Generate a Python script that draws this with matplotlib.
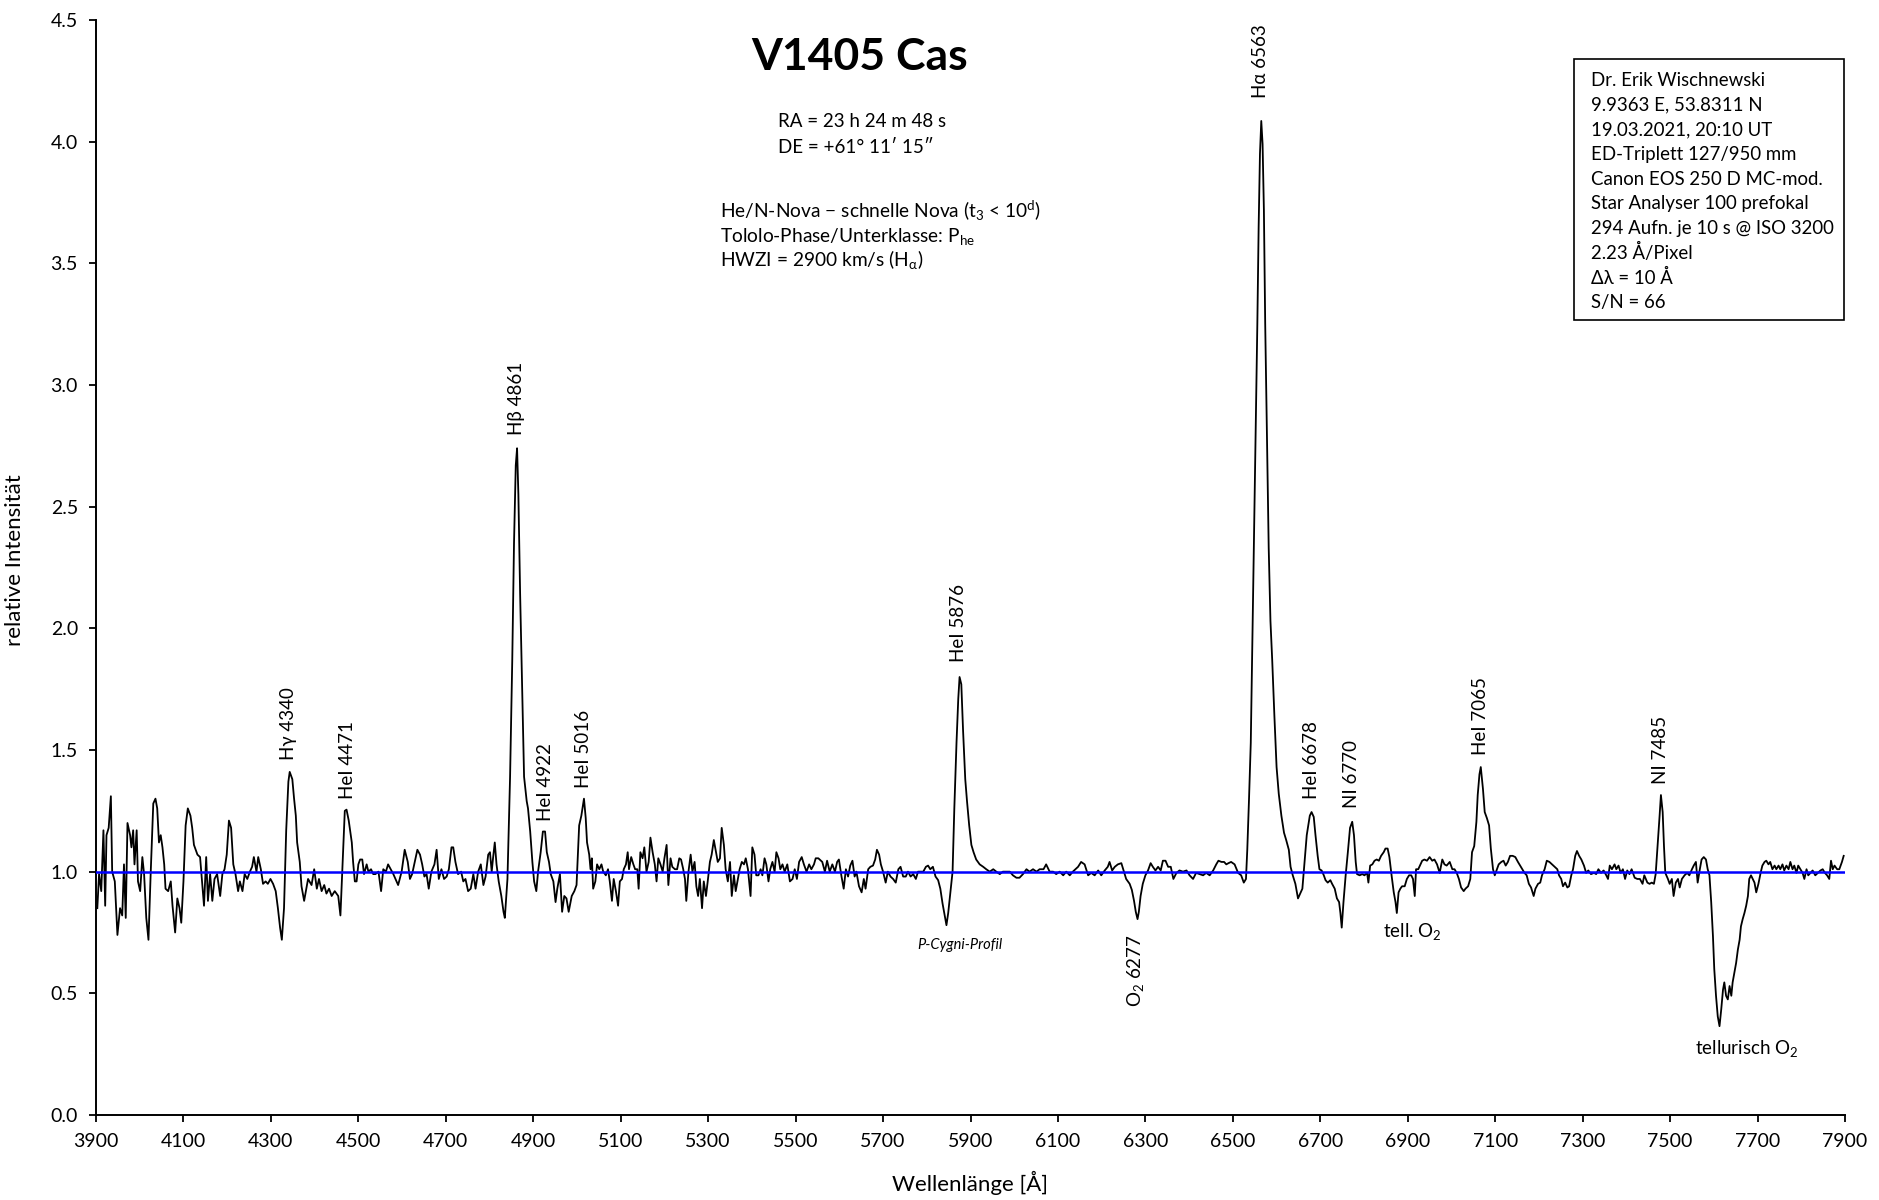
import numpy as np
import matplotlib
matplotlib.use("Agg")
import matplotlib.pyplot as plt
from matplotlib.patches import Rectangle
from matplotlib.ticker import FormatStrFormatter

plt.rcParams['font.family'] = ['Lato', 'DejaVu Sans']
plt.rcParams['mathtext.fontset'] = 'custom'
plt.rcParams['mathtext.rm'] = 'Lato'
plt.rcParams['mathtext.it'] = 'Lato:italic'
plt.rcParams['mathtext.bf'] = 'Lato:bold'
plt.rcParams['mathtext.fallback'] = 'stixsans'


# spectrum in pieces (wavelength in A, relative intensity)
wl_a = [3903, 3907, 3912, 3917, 3921, 3924, 3929, 3934, 3937, 3943,
        3949, 3955, 3960, 3964, 3968, 3972, 3978, 3981, 3985, 3988,
        3993, 3996, 4001, 4006, 4010, 4015, 4020, 4025, 4031, 4036,
        4040, 4044, 4048, 4052, 4056, 4059, 4065, 4071, 4075, 4081,
        4086, 4091, 4095, 4100, 4105, 4110, 4116, 4120, 4124, 4132,
        4138, 4143, 4147, 4152, 4156, 4161, 4166, 4171, 4177, 4184,
        4189, 4194, 4199, 4204, 4209, 4214, 4219, 4225, 4229, 4235,
        4240, 4246, 4252, 4257, 4261, 4267, 4271, 4277, 4282, 4288,
        4293, 4299, 4305, 4311, 4316, 4321, 4325, 4330, 4335, 4340,
        4343, 4349, 4353, 4357, 4360, 4366, 4370, 4376]
flux_a = [0.85, 0.99, 0.92, 1.17, 0.86, 1.15, 1.18, 1.31, 1.00, 0.96,
          0.74, 0.85, 0.82, 1.03, 0.81, 1.20, 1.15, 1.10, 1.17, 1.03,
          1.17, 0.96, 0.92, 1.06, 0.99, 0.81, 0.72, 0.99, 1.28, 1.30,
          1.26, 1.12, 1.15, 1.10, 1.03, 0.93, 0.92, 0.96, 0.86, 0.75,
          0.89, 0.85, 0.79, 0.96, 1.19, 1.26, 1.23, 1.18, 1.11, 1.07,
          1.06, 0.95, 0.86, 1.06, 0.88, 0.99, 0.88, 0.97, 0.99, 0.90,
          0.99, 1.01, 1.07, 1.21, 1.18, 1.03, 0.99, 0.92, 0.96, 0.92,
          0.99, 0.97, 1.00, 1.02, 1.06, 1.00, 1.06, 1.01, 0.95, 0.96,
          0.95, 0.97, 0.95, 0.92, 0.85, 0.77, 0.72, 0.85, 1.17, 1.37,
          1.41, 1.38, 1.30, 1.23, 1.12, 1.04, 0.94, 0.88]

wl_b = [4385, 4393, 4399, 4405, 4410, 4416, 4422, 4427, 4433, 4439,
        4446, 4454, 4459, 4464, 4469, 4473, 4478, 4485, 4488, 4492,
        4496, 4500, 4504, 4509, 4513, 4519, 4523, 4529, 4534, 4539,
        4546, 4552, 4557, 4563, 4568, 4574, 4580, 4585, 4591, 4599,
        4606, 4613, 4618, 4623, 4629, 4635, 4641, 4646, 4651, 4656,
        4661, 4667, 4674, 4679, 4684, 4690, 4696, 4702, 4707, 4713,
        4717, 4722, 4728, 4735, 4740, 4745, 4751, 4757, 4763, 4768,
        4774, 4780, 4786, 4791, 4797, 4801, 4805, 4808, 4812, 4816,
        4821, 4827, 4832, 4835, 4841, 4847, 4852, 4856, 4860, 4863,
        4866, 4870, 4875, 4879, 4885, 4888, 4893, 4898, 4902, 4907,
        4911, 4917, 4922, 4927, 4931, 4936, 4940, 4946, 4951, 4955,
        4961, 4966, 4971, 4976, 4981, 4988, 4994, 4999]
flux_b = [0.97, 0.945, 1.01, 0.93, 0.97, 0.92, 0.945, 0.91, 0.93, 0.90,
          0.92, 0.90, 0.82, 1.04, 1.25, 1.255, 1.21, 1.12, 1.04, 0.96,
          0.96, 1.03, 1.05, 1.05, 0.99, 1.03, 1.00, 1.01, 0.99, 0.99,
          1.00, 0.92, 1.01, 1.00, 1.03, 1.01, 0.99, 0.97, 0.945, 1.00,
          1.09, 1.04, 0.97, 0.99, 1.04, 1.09, 1.07, 1.03, 0.98, 0.99,
          0.93, 1.00, 1.03, 1.09, 0.97, 1.01, 0.97, 0.98, 1.01, 1.10,
          1.10, 1.04, 0.99, 1.00, 0.96, 0.97, 0.92, 0.93, 0.99, 0.93,
          1.00, 1.03, 0.945, 0.98, 1.07, 1.08, 1.00, 1.055, 1.12, 1.03,
          0.96, 0.90, 0.835, 0.81, 0.97, 1.39, 1.87, 2.35, 2.67, 2.74,
          2.55, 2.14, 1.73, 1.39, 1.29, 1.26, 1.165, 1.04, 0.96, 0.92,
          1.00, 1.08, 1.165, 1.165, 1.08, 1.04, 0.99, 0.96, 0.875, 0.93,
          0.99, 0.835, 0.90, 0.89, 0.835, 0.90, 0.92, 0.945]

wl_c = [5005, 5010, 5016, 5020, 5023, 5028, 5031, 5034, 5037, 5042,
        5046, 5051, 5056, 5060, 5066, 5071, 5075, 5080, 5084, 5089,
        5094, 5098, 5103, 5107, 5112, 5116, 5119, 5124, 5129, 5133,
        5138, 5141, 5145, 5150, 5154, 5159, 5164, 5168, 5173, 5178,
        5182, 5186, 5191, 5196, 5200, 5205, 5209, 5214, 5218, 5224,
        5229, 5234, 5238, 5243, 5247, 5250, 5255, 5260, 5264, 5269,
        5273, 5277, 5281, 5286, 5290, 5295, 5299, 5304, 5308, 5313,
        5318, 5322, 5327, 5331, 5336, 5340, 5345, 5350, 5354, 5359,
        5363, 5368, 5372, 5377, 5382, 5386, 5391, 5397, 5401, 5406,
        5410, 5415, 5420, 5424, 5429, 5433, 5438, 5442, 5447, 5452,
        5456, 5461, 5465, 5470, 5475, 5481, 5487, 5493, 5498, 5503,
        5508, 5514, 5519, 5525, 5531, 5536, 5542, 5546, 5552]
flux_c = [1.19, 1.23, 1.30, 1.22, 1.12, 1.07, 1.01, 1.055, 0.93, 0.96,
          1.03, 1.01, 1.03, 1.00, 0.985, 1.01, 0.96, 0.88, 0.97, 0.92,
          0.86, 0.96, 0.97, 1.01, 1.03, 1.08, 1.01, 1.06, 1.03, 1.01,
          1.01, 0.93, 1.08, 1.055, 1.10, 1.00, 1.04, 1.14, 1.08, 1.03,
          0.96, 1.055, 1.03, 1.00, 1.055, 1.11, 0.945, 1.055, 1.02, 1.01,
          1.01, 1.055, 1.05, 1.01, 0.97, 0.88, 1.00, 1.07, 1.00, 1.04,
          0.94, 0.90, 0.97, 0.85, 0.96, 0.90, 0.96, 1.04, 1.07, 1.13,
          1.08, 1.04, 1.055, 1.18, 1.11, 1.01, 0.96, 1.04, 0.90, 0.985,
          0.92, 0.97, 1.01, 1.04, 1.03, 1.055, 1.01, 0.90, 1.10, 1.07,
          0.985, 0.985, 1.01, 0.985, 1.055, 1.03, 0.96, 1.01, 1.04, 1.00,
          1.08, 1.055, 1.01, 1.03, 1.00, 1.03, 0.96, 0.97, 1.01, 0.97,
          1.04, 1.06, 1.03, 1.00, 1.03, 1.01, 1.03, 1.055, 1.055]

wl_d = [5561, 5567, 5572, 5578, 5584, 5590, 5595, 5599, 5605, 5610,
        5615, 5620, 5625, 5630, 5635, 5639, 5645, 5651, 5656, 5660,
        5666, 5671, 5677, 5682, 5686, 5691, 5695, 5700, 5706, 5711,
        5717, 5723, 5729, 5735, 5740, 5746, 5752, 5757, 5763, 5769,
        5775, 5780, 5785, 5792, 5798, 5803, 5808, 5814, 5820, 5826,
        5831, 5836, 5840, 5845, 5849, 5854, 5859, 5863, 5868, 5872,
        5875, 5879, 5883, 5888, 5892, 5897, 5902, 5907, 5913, 5921,
        5929, 5936, 5944, 5952, 5959, 5967, 5974, 5982, 5990, 5997,
        6005, 6012, 6020, 6028, 6035, 6043, 6051, 6058, 6067, 6073,
        6081, 6089, 6096, 6104, 6112, 6119, 6127, 6134]
flux_d = [1.04, 1.00, 1.045, 1.00, 1.03, 1.00, 1.04, 1.05, 0.98, 0.93,
          1.01, 0.98, 1.025, 1.045, 0.98, 1.00, 0.94, 0.915, 0.97, 0.93,
          1.01, 1.02, 1.025, 1.05, 1.09, 1.07, 1.03, 1.00, 0.955, 1.00,
          0.98, 0.97, 0.955, 1.01, 1.02, 0.98, 0.98, 1.00, 0.98, 0.99,
          0.97, 1.00, 1.00, 1.00, 1.02, 1.025, 1.01, 1.02, 0.98, 0.965,
          0.93, 0.87, 0.83, 0.78, 0.83, 0.915, 1.00, 1.26, 1.53, 1.71,
          1.80, 1.77, 1.58, 1.38, 1.29, 1.19, 1.11, 1.08, 1.05, 1.03,
          1.02, 1.01, 1.00, 1.01, 1.00, 0.99, 1.00, 1.00, 1.00, 0.985,
          0.975, 0.975, 0.99, 1.01, 1.00, 1.01, 1.00, 1.01, 1.01, 1.03,
          1.00, 1.00, 0.99, 1.00, 0.985, 1.00, 0.985, 1.00]

wl_e = [6146, 6153, 6161, 6169, 6176, 6184, 6192, 6199, 6207, 6214,
        6218, 6224, 6230, 6237, 6245, 6251, 6256, 6264, 6269, 6274,
        6278, 6282, 6285, 6289, 6294, 6300, 6306, 6312, 6317, 6323,
        6329, 6335, 6340, 6346, 6352, 6358, 6364, 6371, 6378, 6386,
        6394, 6401, 6409, 6416, 6424, 6432, 6439, 6447, 6455, 6462,
        6467, 6474, 6480, 6485, 6490, 6496, 6504, 6512, 6519, 6525,
        6530, 6533, 6537, 6541, 6544, 6548, 6552, 6556, 6559, 6562,
        6565, 6568, 6571, 6574, 6578, 6582, 6586, 6590, 6595, 6600,
        6605, 6611, 6617, 6622, 6628, 6632, 6637, 6643, 6649]
flux_e = [1.02, 1.04, 1.03, 0.985, 0.995, 0.985, 1.005, 0.985, 1.005, 1.02,
          1.04, 1.005, 1.02, 1.03, 1.035, 1.00, 0.97, 0.95, 0.925, 0.88,
          0.835, 0.805, 0.835, 0.90, 0.95, 0.985, 1.005, 1.035, 1.02, 1.005,
          1.02, 1.005, 1.045, 1.045, 1.02, 1.02, 0.97, 0.995, 1.005, 1.00,
          1.005, 0.985, 0.97, 0.995, 0.99, 0.985, 0.995, 0.985, 1.005, 1.03,
          1.045, 1.04, 1.04, 1.03, 1.035, 1.04, 1.03, 0.995, 0.985, 0.955,
          0.97, 1.09, 1.30, 1.53, 1.87, 2.33, 2.79, 3.25, 3.65, 3.95,
          4.085, 3.99, 3.72, 3.25, 2.79, 2.33, 2.03, 1.87, 1.64, 1.43,
          1.32, 1.23, 1.16, 1.13, 1.09, 1.02, 0.985, 0.95, 0.89]

wl_f = [6659, 6664, 6669, 6676, 6680, 6685, 6689, 6694, 6698, 6703,
        6708, 6712, 6717, 6723, 6727, 6733, 6738, 6743, 6746, 6749,
        6753, 6758, 6763, 6768, 6773, 6777, 6781, 6784, 6790, 6796,
        6801, 6807, 6810, 6814, 6819, 6824, 6829, 6834, 6839, 6845,
        6849, 6854, 6858, 6863, 6868, 6872, 6875, 6879, 6883, 6887,
        6893, 6898, 6903, 6908, 6912, 6916, 6919, 6924, 6929, 6933,
        6938, 6944, 6950, 6956, 6961, 6967, 6973, 6979, 6984, 6989,
        6996, 7002, 7007, 7012, 7017, 7022, 7028, 7032, 7038, 7043,
        7047, 7052, 7057, 7060, 7064, 7067, 7072, 7076, 7081, 7086,
        7090, 7095, 7099, 7104, 7108, 7114, 7119, 7124, 7129, 7134,
        7140, 7146, 7152, 7157, 7162, 7167, 7172, 7177, 7182, 7188,
        7192, 7198, 7203, 7207, 7213, 7218, 7224, 7230, 7236]
flux_f = [0.93, 1.04, 1.15, 1.23, 1.245, 1.225, 1.15, 1.065, 1.01, 1.005,
          0.985, 0.965, 0.955, 0.965, 0.95, 0.93, 0.89, 0.875, 0.83, 0.77,
          0.875, 0.985, 1.08, 1.18, 1.205, 1.15, 1.04, 0.99, 0.985, 0.99,
          0.985, 0.995, 0.955, 1.025, 1.03, 1.045, 1.05, 1.045, 1.065, 1.08,
          1.095, 1.095, 1.06, 0.985, 0.915, 0.875, 0.83, 0.915, 0.93, 0.94,
          0.94, 0.97, 0.985, 0.985, 0.97, 0.90, 1.01, 1.01, 1.03, 1.045,
          1.05, 1.045, 1.06, 1.045, 1.05, 1.03, 0.995, 1.05, 1.03, 1.025,
          1.04, 1.01, 1.01, 0.995, 0.97, 0.935, 0.92, 0.93, 0.94, 0.97,
          1.08, 1.105, 1.205, 1.315, 1.40, 1.43, 1.34, 1.245, 1.22, 1.19,
          1.095, 1.01, 0.985, 1.01, 1.03, 1.04, 1.045, 1.025, 1.04, 1.065,
          1.065, 1.06, 1.04, 1.025, 1.01, 0.995, 0.985, 0.95, 0.935, 0.90,
          0.93, 0.95, 0.955, 0.985, 1.01, 1.045, 1.04, 1.03, 1.02]

wl_g = [7242, 7246, 7251, 7255, 7260, 7265, 7269, 7274, 7278, 7283,
        7287, 7292, 7297, 7303, 7308, 7313, 7319, 7326, 7331, 7336,
        7342, 7348, 7354, 7358, 7362, 7367, 7373, 7377, 7382, 7387,
        7392, 7397, 7402, 7407, 7412, 7419, 7425, 7431, 7437, 7441,
        7448, 7453, 7458, 7463, 7467, 7472, 7476, 7479, 7483, 7486,
        7489, 7495, 7499, 7504, 7508, 7513, 7518, 7522, 7527, 7533,
        7539, 7544, 7550, 7554, 7559, 7563, 7568, 7572, 7577, 7582,
        7586, 7590, 7594, 7598, 7601, 7605, 7609, 7613, 7617, 7621,
        7624, 7628, 7632, 7636, 7640, 7643, 7647, 7651, 7655, 7659,
        7662, 7666, 7670, 7674, 7678, 7681, 7685, 7689, 7693, 7697,
        7702, 7707, 7711, 7716, 7720, 7725, 7729, 7734, 7739, 7743,
        7748, 7752, 7757, 7761, 7766, 7771, 7775, 7780, 7784, 7789,
        7793, 7798, 7803, 7807, 7812, 7816, 7821, 7826, 7832, 7838,
        7844, 7849, 7854, 7859, 7864, 7868, 7872, 7876, 7882, 7887,
        7893, 7897]
flux_g = [1.01, 0.985, 0.97, 0.94, 0.955, 0.935, 0.94, 0.985, 1.01, 1.065,
          1.085, 1.065, 1.05, 1.025, 0.995, 1.005, 0.99, 0.995, 0.99, 1.01,
          0.995, 1.005, 0.985, 0.97, 1.025, 1.01, 1.03, 1.01, 1.025, 0.995,
          1.01, 0.97, 1.005, 0.99, 1.01, 0.975, 0.97, 0.97, 0.95, 0.985,
          0.955, 0.95, 0.955, 0.95, 0.99, 1.12, 1.23, 1.315, 1.245, 1.105,
          0.995, 0.97, 0.95, 0.97, 0.90, 0.955, 0.97, 0.935, 0.97, 0.985,
          0.995, 0.985, 1.01, 1.025, 1.04, 0.955, 1.01, 1.05, 1.06, 1.05,
          1.01, 0.985, 0.875, 0.735, 0.60, 0.49, 0.405, 0.365, 0.435, 0.515,
          0.545, 0.49, 0.475, 0.53, 0.49, 0.545, 0.585, 0.625, 0.68, 0.72,
          0.775, 0.805, 0.83, 0.86, 0.90, 0.97, 0.985, 0.97, 0.955, 0.915,
          0.95, 0.995, 1.025, 1.04, 1.045, 1.03, 1.04, 1.01, 1.025, 1.01,
          1.025, 1.01, 1.03, 1.005, 1.025, 1.01, 1.04, 1.01, 1.025, 0.995,
          1.025, 1.01, 0.995, 0.97, 1.01, 0.985, 0.995, 1.005, 0.985, 0.995,
          1.005, 1.01, 0.995, 0.985, 0.97, 1.045, 1.01, 1.025, 1.01, 1.01,
          1.04, 1.065]

continuum = 1.0

# emission lines: label, wavelength where the label sits, height of label start
line_names = ['Hγ 4340', 'HeI 4471', 'Hβ 4861', 'HeI 4922', 'HeI 5016', 'HeI 5876',
              'Hα 6563', 'HeI 6678', 'NI 6770', 'HeI 7065', 'NI 7485']
line_wl = [4341, 4475, 4861, 4927, 5015, 5872, 6563, 6681, 6771, 7067, 7478]
line_y = [1.46, 1.30, 2.795, 1.21, 1.345, 1.86, 4.18, 1.30, 1.26, 1.48, 1.36]

info_box = ['Dr. Erik Wischnewski',
            '9.9363 E, 53.8311 N',
            '19.03.2021, 20:10 UT',
            'ED-Triplett 127/950 mm',
            'Canon EOS 250 D MC-mod.',
            'Star Analyser 100 prefokal',
            '294 Aufn. je 10 s @ ISO 3200',
            '2.23 Å/Pixel',
            'Δλ = 10 Å',
            'S/N = 66']

coords = ['RA = 23 h 24 m 48 s', 'DE = +61° 11′ 15″']
nova_info = [r'He/N-Nova − schnelle Nova (t$_3$ < 10$^\mathrm{d}$)',
             r'Tololo-Phase/Unterklasse: P$_\mathrm{he}$',
             r'HWZI = 2900 km/s (H$_\mathrm{α}$)']

wl = np.concatenate([wl_a, wl_b, wl_c, wl_d, wl_e, wl_f, wl_g])
flux = np.concatenate([flux_a, flux_b, flux_c, flux_d, flux_e, flux_f, flux_g])

W, H = 1879, 1200
fig = plt.figure(figsize=(W / 100, H / 100), dpi=100)
ax = fig.add_axes([96 / W, 1 - 1115 / H, 1749 / W, 1095 / H])

ax.plot(wl, flux, color='black', lw=1.3, zorder=2)
ax.axhline(continuum, color='#0000ff', lw=1.8, zorder=3)

ax.set_xlim(3900, 7900)
ax.set_ylim(0, 4.5)
ax.set_xticks(np.arange(3900, 7901, 200))
ax.set_yticks(np.arange(0, 4.51, 0.5))
ax.yaxis.set_major_formatter(FormatStrFormatter('%.1f'))
ax.spines['top'].set_visible(False)
ax.spines['right'].set_visible(False)
for s in ['left', 'bottom']:
    ax.spines[s].set_linewidth(1.4)
ax.tick_params(direction='out', length=5, width=1.3, labelsize=14, pad=8)

# line identifications
for name, x, y in zip(line_names, line_wl, line_y):
    ax.text(x, y, name, rotation=90, ha='center', va='bottom', fontsize=13.5)

ax.text(6278, 0.745, 'O$_2$ 6277', rotation=90, ha='center', va='top', fontsize=13.5)
ax.text(5875, 0.70, 'P-Cygni-Profil', ha='center', va='center', fontsize=10.5, style='italic')
ax.text(6911, 0.753, 'tell. O$_2$', ha='center', va='center', fontsize=13.5)
ax.text(7675, 0.273, 'tellurisch O$_2$', ha='center', va='center', fontsize=13.5)

# titles and header text
fig.text(860 / W, 1 - 57 / H, 'V1405 Cas', ha='center', va='center',
         fontsize=32, fontweight='bold')
for i, t in enumerate(coords):
    fig.text(778 / W, 1 - (127 + 26 * i) / H, t, ha='left', va='baseline', fontsize=13.5)
for i, t in enumerate(nova_info):
    fig.text(720 / W, 1 - (218 + 24 * i) / H, t, ha='left', va='baseline', fontsize=13.8)

fig.patches.append(Rectangle((1574 / W, 1 - 320 / H), 270 / W, 261 / H,
                             transform=fig.transFigure, fill=False,
                             edgecolor='black', lw=1.2))
for i, t in enumerate(info_box):
    fig.text(1591 / W, 1 - (86 + 24.7 * i) / H, t, ha='left', va='baseline', fontsize=13.4)

fig.text(970 / W, 1 - 1183 / H, 'Wellenlänge [Å]', ha='center', va='center', fontsize=16)
fig.text(15 / W, 1 - 560 / H, 'relative Intensität', ha='center', va='center',
         rotation=90, fontsize=16)

fig.savefig('out.png', dpi=100)
